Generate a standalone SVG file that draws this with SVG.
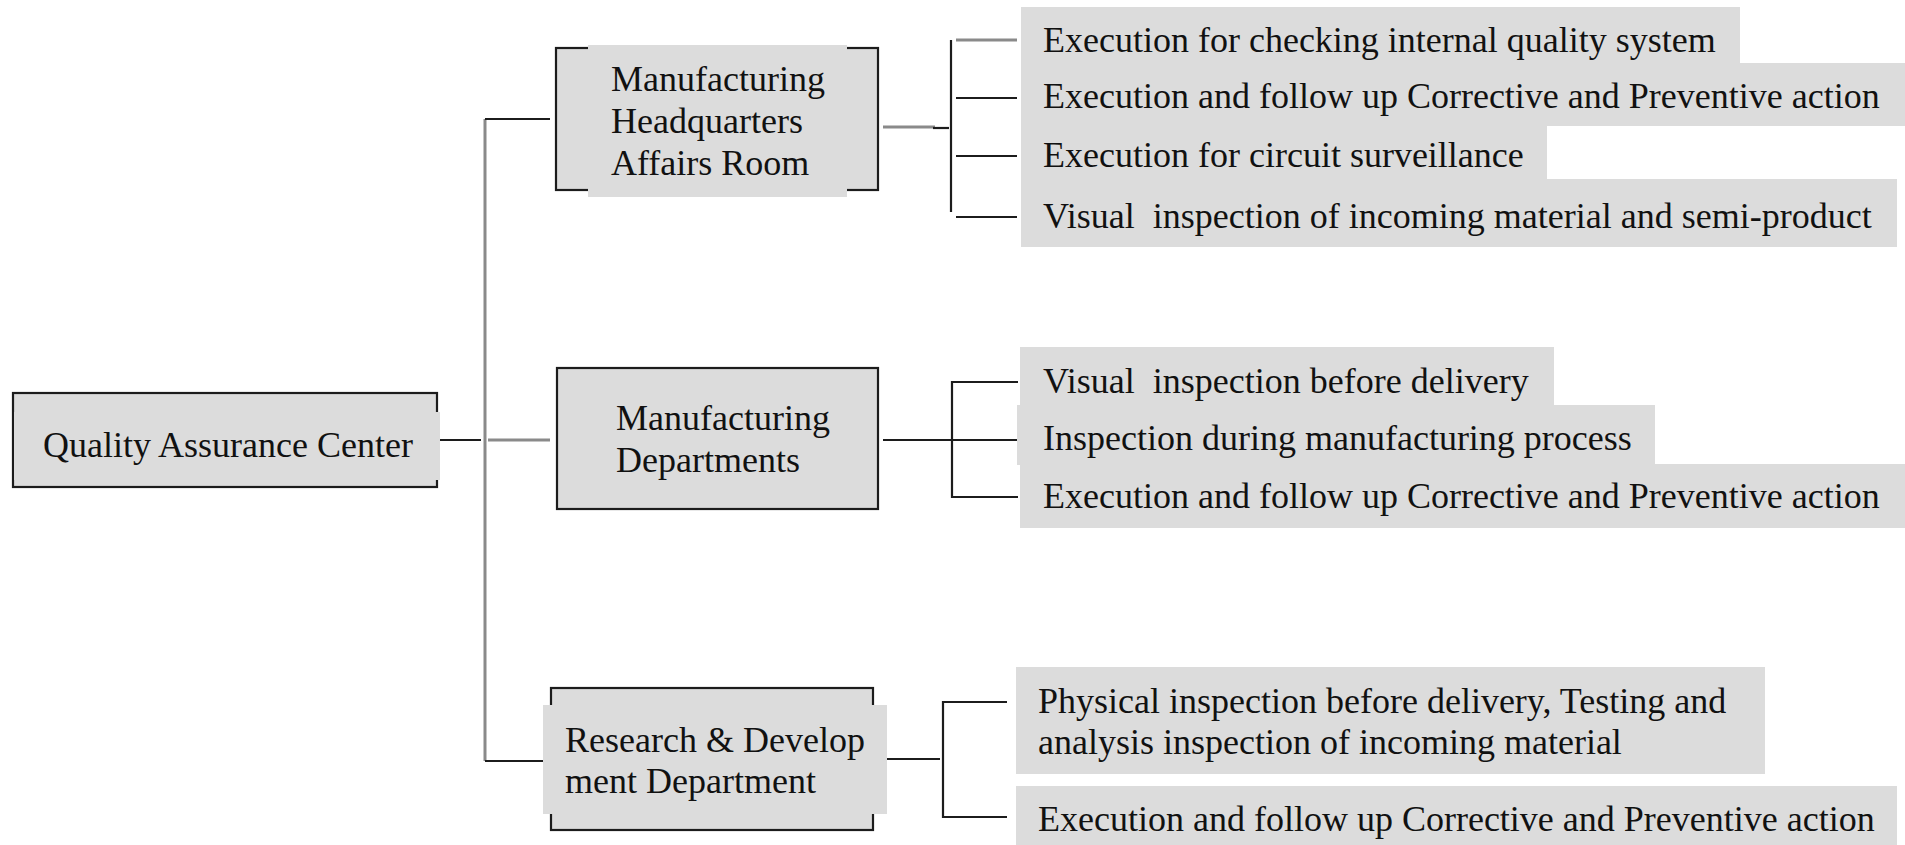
<svg xmlns="http://www.w3.org/2000/svg" width="1905" height="845" viewBox="0 0 1905 845">
  <style>
    .box { fill: #dcdcdc; stroke: #1c1c1c; stroke-width: 2.2; }
    .shade { fill: #dcdcdc; stroke: none; }
    .t { font-family: "Liberation Serif", "Times New Roman", serif; font-size: 36px; fill: #111; }
    .ln { stroke: #1c1c1c; stroke-width: 2.2; fill: none; }
    .lg { stroke: #8a8a8a; stroke-width: 3; fill: none; }
  </style>
  <rect width="1905" height="845" fill="#ffffff"/>

  <!-- connectors -->
  <g id="connectors">
    <!-- trunk from the centre to the three departments -->
    <line class="lg" x1="485" y1="119" x2="485" y2="761"/>
    <line class="ln" x1="437" y1="440" x2="481" y2="440"/>
    <line class="lg" x1="488" y1="440" x2="550" y2="440"/>
    <line class="ln" x1="485" y1="119" x2="550" y2="119"/>
    <line class="ln" x1="485" y1="761" x2="550" y2="761"/>

    <!-- headquarters affairs room bracket -->
    <line class="lg" x1="883" y1="127" x2="935" y2="127"/>
    <line class="ln" x1="933" y1="128" x2="949" y2="128"/>
    <line class="ln" x1="951" y1="40" x2="951" y2="212"/>
    <line class="lg" x1="956" y1="40" x2="1017" y2="40"/>
    <line class="ln" x1="956" y1="98" x2="1017" y2="98"/>
    <line class="ln" x1="956" y1="156" x2="1017" y2="156"/>
    <line class="ln" x1="956" y1="217" x2="1017" y2="217"/>

    <!-- manufacturing departments bracket -->
    <line class="ln" x1="883" y1="440" x2="1018" y2="440"/>
    <path class="ln" d="M1018 382 H952 V497 H1018"/>

    <!-- research & development bracket -->
    <line class="ln" x1="877" y1="759" x2="940" y2="759"/>
    <path class="ln" d="M1007 702 H943 V817 H1007"/>
  </g>

  <!-- root -->
  <g id="node-qac">
    <rect class="box" x="13" y="393" width="424" height="94"/>
    <rect class="shade" x="14" y="412" width="426" height="68"/>
    <text class="t" x="43" y="457">Quality Assurance Center</text>
  </g>

  <!-- departments -->
  <g id="node-hq">
    <rect class="box" x="556" y="48" width="322" height="142"/>
    <rect class="shade" x="588" y="45" width="259" height="152"/>
    <text class="t" x="611" y="91">Manufacturing</text>
    <text class="t" x="611" y="133">Headquarters</text>
    <text class="t" x="611" y="175">Affairs Room</text>
  </g>

  <g id="node-md">
    <rect class="box" x="557" y="368" width="321" height="141"/>
    <text class="t" x="616" y="430">Manufacturing</text>
    <text class="t" x="616" y="472">Departments</text>
  </g>

  <g id="node-rd">
    <rect class="box" x="551" y="688" width="322" height="142"/>
    <rect class="shade" x="543" y="705" width="344" height="109"/>
    <text class="t" x="565" y="752">Research &amp; Develop</text>
    <text class="t" x="565" y="793">ment Department</text>
  </g>

  <!-- duties of the headquarters affairs room -->
  <g id="item-hq-1">
    <rect class="shade" x="1021" y="7" width="719" height="57"/>
    <text class="t" x="1043" y="52">Execution for checking internal quality system</text>
  </g>
  <g id="item-hq-2">
    <rect class="shade" x="1021" y="63" width="884" height="63"/>
    <text class="t" x="1043" y="108">Execution and follow up Corrective and Preventive action</text>
  </g>
  <g id="item-hq-3">
    <rect class="shade" x="1021" y="125" width="526" height="56"/>
    <text class="t" x="1043" y="167">Execution for circuit surveillance</text>
  </g>
  <g id="item-hq-4">
    <rect class="shade" x="1021" y="179" width="876" height="68"/>
    <text class="t" x="1043" y="228" xml:space="preserve">Visual  inspection of incoming material and semi-product</text>
  </g>

  <!-- duties of the manufacturing departments -->
  <g id="item-md-1">
    <rect class="shade" x="1020" y="347" width="534" height="59"/>
    <text class="t" x="1043" y="393" xml:space="preserve">Visual  inspection before delivery</text>
  </g>
  <g id="item-md-2">
    <rect class="shade" x="1017" y="405" width="638" height="60"/>
    <text class="t" x="1043" y="450">Inspection during manufacturing process</text>
  </g>
  <g id="item-md-3">
    <rect class="shade" x="1020" y="464" width="885" height="64"/>
    <text class="t" x="1043" y="508">Execution and follow up Corrective and Preventive action</text>
  </g>

  <!-- duties of research & development -->
  <g id="item-rd-1">
    <rect class="shade" x="1016" y="667" width="749" height="107"/>
    <text class="t" x="1038" y="713">Physical inspection before delivery, Testing and</text>
    <text class="t" x="1038" y="754">analysis inspection of incoming material</text>
  </g>
  <g id="item-rd-2">
    <rect class="shade" x="1016" y="786" width="881" height="59"/>
    <text class="t" x="1038" y="831">Execution and follow up Corrective and Preventive action</text>
  </g>
</svg>
